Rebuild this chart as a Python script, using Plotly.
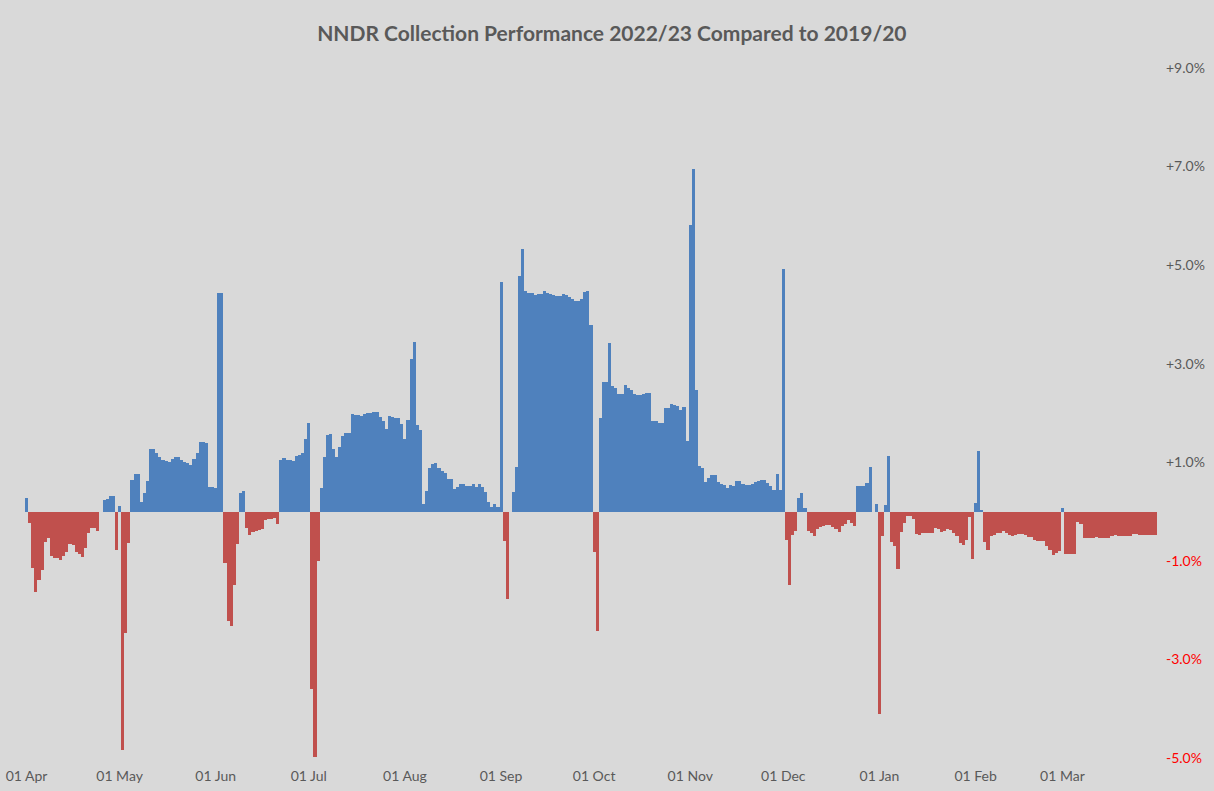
import pandas as pd
import plotly.graph_objects as go

# Daily difference in cumulative NNDR collection rate (percentage points), 2022/23 vs 2019/20
apr = [0.28, -0.24, -1.14, -1.63, -1.39, -1.19, -0.61, -0.53, -0.90, -0.94,
       -0.94, -0.99, -0.90, -0.82, -0.65, -0.68, -0.83, -0.86, -0.93, -0.73,
       -0.43, -0.34, -0.34, -0.39, 0.0, 0.24, 0.25, 0.31, 0.31, -0.78]
may = [0.11, -4.83, -2.46, -0.64, 0.65, 0.76, 0.76, 0.19, 0.38, 0.63,
       1.26, 1.27, 1.18, 1.10, 1.05, 1.02, 1.01, 1.07, 1.11, 1.10,
       1.05, 1.01, 0.99, 0.94, 1.07, 1.19, 1.41, 1.41, 1.39, 0.49, 0.49]
jun = [0.48, 4.43, 4.43, -1.05, -2.22, -2.32, -1.48, -0.66, 0.38, 0.41,
       -0.33, -0.47, -0.41, -0.39, -0.38, -0.35, -0.18, -0.16, -0.16, -0.14,
       -0.25, 1.05, 1.08, 1.05, 1.04, 1.02, 1.12, 1.14, 1.19, 1.47]
jul = [1.80, -3.59, -4.98, -1.01, 0.47, 1.10, 1.56, 1.57, 1.26, 1.11,
       1.32, 1.53, 1.59, 1.59, 1.97, 1.95, 1.95, 1.93, 1.97, 1.99,
       1.99, 2.02, 2.02, 1.92, 1.83, 1.68, 1.93, 1.91, 1.90, 1.90, 1.78]
aug = [1.47, 1.85, 3.10, 3.45, 1.76, 1.65, 0.15, 0.42, 0.88, 0.96,
       0.98, 0.88, 0.83, 0.78, 0.66, 0.66, 0.45, 0.50, 0.55, 0.55,
       0.52, 0.52, 0.55, 0.50, 0.55, 0.50, 0.40, 0.20, 0.09, 0.16, 0.09]
sep = [4.65, -0.60, -1.78, 0.0, 0.39, 0.91, 4.77, 5.32, 4.48, 4.43,
       4.43, 4.40, 4.41, 4.41, 4.48, 4.44, 4.42, 4.39, 4.38, 4.38,
       4.41, 4.39, 4.36, 4.32, 4.27, 4.27, 4.32, 4.45, 4.47, 3.79]
oct_ = [-0.82, -2.42, 1.89, 2.62, 2.62, 3.43, 2.54, 2.51, 2.38, 2.38,
        2.57, 2.51, 2.46, 2.39, 2.36, 2.37, 2.38, 2.40, 2.40, 1.84,
        1.84, 1.80, 1.80, 2.10, 2.10, 2.18, 2.17, 2.14, 2.07, 2.12, 1.43]
nov = [5.82, 6.95, 2.47, 0.93, 0.89, 0.61, 0.68, 0.74, 0.74, 0.60,
       0.56, 0.54, 0.48, 0.53, 0.51, 0.62, 0.62, 0.56, 0.54, 0.53,
       0.56, 0.60, 0.63, 0.65, 0.65, 0.58, 0.52, 0.44, 0.76, 0.44]
dec = [4.93, -0.57, -1.48, -0.47, -0.40, 0.27, 0.38, 0.07, -0.39, -0.43,
       -0.49, -0.36, -0.32, -0.30, -0.28, -0.28, -0.32, -0.35, -0.42, -0.30,
       -0.26, -0.18, -0.23, -0.30, 0.51, 0.51, 0.51, 0.58, 0.90, 0.0, 0.16]
jan = [-4.10, -0.49, 0.14, 1.12, -0.62, -0.69, -1.16, -0.42, -0.23, -0.09,
       -0.09, -0.15, -0.45, -0.47, -0.43, -0.44, -0.43, -0.43, -0.33, -0.36,
       -0.41, -0.39, -0.36, -0.37, -0.43, -0.49, -0.64, -0.68, -0.57, -0.10, -0.96]
feb = [0.18, 1.22, 0.04, -0.62, -0.77, -0.50, -0.47, -0.44, -0.43, -0.40,
       -0.43, -0.48, -0.50, -0.47, -0.45, -0.45, -0.48, -0.52, -0.52, -0.57,
       -0.59, -0.59, -0.59, -0.70, -0.78, -0.89, -0.84, -0.80]
mar = [0.07, -0.87, -0.87, -0.87, -0.87, -0.22, -0.25, -0.53, -0.53, -0.53,
       -0.53, -0.52, -0.54, -0.53, -0.53, -0.53, -0.50, -0.47, -0.49, -0.49,
       -0.50, -0.50, -0.50, -0.46, -0.46, -0.47, -0.47, -0.47, -0.47, -0.47, -0.47]

month_starts = ["2022-04-01", "2022-05-01", "2022-06-01", "2022-07-01", "2022-08-01",
                "2022-09-01", "2022-10-01", "2022-11-01", "2022-12-01", "2023-01-01",
                "2023-02-01", "2023-03-01"]
month_labels = ["01 Apr", "01 May", "01 Jun", "01 Jul", "01 Aug", "01 Sep",
                "01 Oct", "01 Nov", "01 Dec", "01 Jan", "01 Feb", "01 Mar"]

y_ticks = [-5, -3, -1, 1, 3, 5, 7, 9]
y_labels = ["-5.0%", "-3.0%", "-1.0%", "+1.0%", "+3.0%", "+5.0%", "+7.0%", "+9.0%"]

values = apr + may + jun + jul + aug + sep + oct_ + nov + dec + jan + feb + mar
dates = pd.date_range("2022-04-01", "2023-03-31", freq="D")

BLUE = "#4F81BD"
RED = "#C0504D"
GREY_TEXT = "#595959"
BG = "#D9D9D9"

bar_colors = [BLUE if v >= 0 else RED for v in values]
tick_text = [f"<span style='color:#FF0000'>{t}</span>" if v < 0 else t
             for v, t in zip(y_ticks, y_labels)]

fig = go.Figure()
fig.add_bar(x=dates, y=values, marker=dict(color=bar_colors, line=dict(width=0)))

fig.update_layout(
    width=1214, height=791,
    paper_bgcolor=BG, plot_bgcolor=BG,
    margin=dict(l=25, r=57, t=68, b=33),
    bargap=0,
    showlegend=False,
    font=dict(family="Lato, sans-serif", color=GREY_TEXT),
    title=dict(
        text="<b>NNDR Collection Performance 2022/23 Compared to 2019/20</b>",
        x=0.504, xanchor="center", y=0.958, yanchor="middle",
        font=dict(family="Lato, sans-serif", size=21, color=GREY_TEXT),
    ),
)
fig.update_xaxes(
    type="date",
    range=["2022-03-31 12:00", "2023-03-31 12:00"],
    tickmode="array", tickvals=month_starts, ticktext=month_labels,
    showgrid=False, zeroline=False, showline=False, ticks="",
    tickfont=dict(size=14, color=GREY_TEXT),
    ticklabelstandoff=8,
    automargin=False,
)
fig.update_yaxes(
    side="right",
    range=[-5, 9],
    tickmode="array", tickvals=y_ticks, ticktext=tick_text,
    showgrid=False, zeroline=False, showline=False, ticks="",
    tickfont=dict(size=14, color=GREY_TEXT),
    ticklabelstandoff=8,
    automargin=False,
)

fig.write_html("out.html")
